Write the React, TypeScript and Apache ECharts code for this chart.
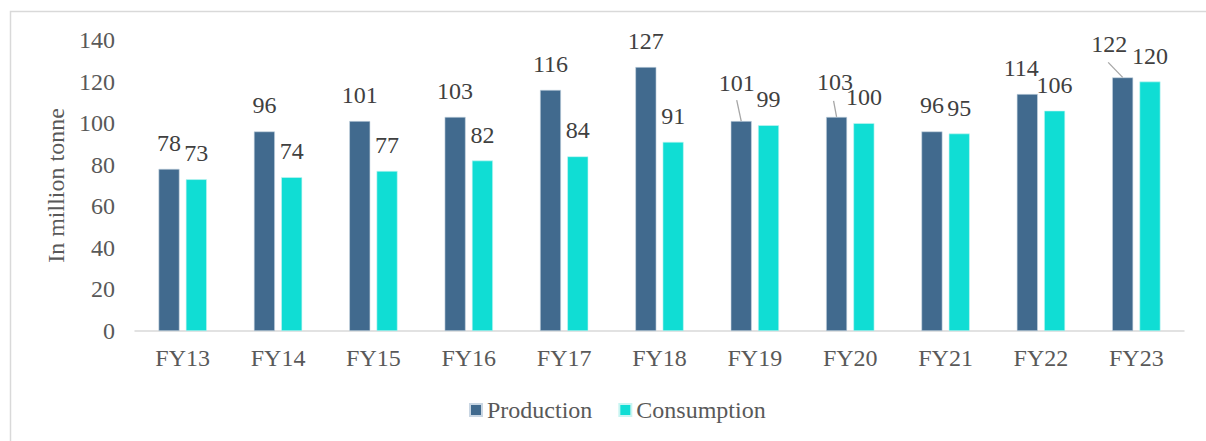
import React, { useEffect, useRef } from "react";
import * as echarts from "echarts";

const categories = ["FY13", "FY14", "FY15", "FY16", "FY17", "FY18", "FY19", "FY20", "FY21", "FY22", "FY23"];
const production = [78, 96, 101, 103, 116, 127, 101, 103, 96, 114, 122];
const consumption = [73, 74, 77, 82, 84, 91, 99, 100, 95, 106, 120];
const seriesNames = ["Production", "Consumption"];
const yAxisName = "In million tonne";

// label offsets (dx, dy) for production labels that were moved in the reference
const prodLabelMoves: Record<number, [number, number]> = {
  6: [-4.5, -12],
  7: [-1.5, -9],
  9: [-6, 0],
  10: [-13.5, -7],
};
// leader lines: category index -> pixel offset of the line's label end from the bar-top centre
const leaderLines: Record<number, [number, number]> = {
  6: [-4.5, -21],
  7: [-3, -16],
  10: [-14.5, -15],
};

const FONT = "'Liberation Serif', 'Times New Roman', serif";
const BAR_W = 21;
const BAR_GAP = 0.3;

export default function App() {
  const ref = useRef<HTMLDivElement>(null);
  useEffect(() => {
    if (!ref.current) return;
    const chart = echarts.init(ref.current, undefined, { renderer: "svg" });
    const labelBase = {
      show: true,
      position: "top" as const,
      distance: 14,
      fontFamily: FONT,
      fontSize: 24,
      color: "#404040",
    };
    const leaderIdx = Object.keys(leaderLines).map(Number);
    chart.setOption({
      animation: false,
      textStyle: { fontFamily: FONT },
      graphic: [
        {
          type: "rect",
          shape: { x: 10.5, y: 11.5, width: 1400, height: 600 },
          style: { fill: "none", stroke: "#d9d9d9", lineWidth: 1.5 },
          silent: true,
          z: -1,
        },
      ],
      grid: { left: 135, right: 22, top: 40, bottom: 110, containLabel: false },
      legend: {
        left: 464,
        top: 393,
        itemWidth: 12,
        itemHeight: 12,
        itemGap: 26,
        icon: "rect",
        textStyle: { fontFamily: FONT, fontSize: 24, color: "#595959" },
        data: seriesNames,
      },
      xAxis: {
        type: "category",
        data: categories,
        axisLine: { lineStyle: { color: "#d9d9d9", width: 1.5 } },
        axisTick: { show: false },
        axisLabel: { fontFamily: FONT, fontSize: 24, color: "#595959", margin: 15 },
      },
      yAxis: {
        type: "value",
        min: 0,
        max: 140,
        interval: 20,
        name: yAxisName,
        nameLocation: "middle",
        nameGap: 65,
        nameTextStyle: { fontFamily: FONT, fontSize: 24, color: "#595959" },
        splitLine: { show: false },
        axisLine: { show: false },
        axisTick: { show: false },
        axisLabel: { fontFamily: FONT, fontSize: 24, color: "#595959", margin: 20 },
      },
      series: [
        {
          name: seriesNames[0],
          type: "bar",
          barWidth: BAR_W,
          barGap: `${BAR_GAP * 100}%`,
          itemStyle: { color: "#416a8e", borderColor: "#c9d6e3", borderWidth: 0.6 },
          label: labelBase,
          labelLayout: (p: any) => {
            const m = prodLabelMoves[p.dataIndex];
            return m ? { dx: m[0], dy: m[1] } : {};
          },
          data: production,
        },
        {
          name: seriesNames[1],
          type: "bar",
          barWidth: BAR_W,
          barGap: `${BAR_GAP * 100}%`,
          itemStyle: { color: "#10ddd4", borderColor: "#c8f5f2", borderWidth: 0.6 },
          label: labelBase,
          data: consumption,
        },
        {
          type: "custom",
          name: "leader",
          silent: true,
          z: 5,
          data: leaderIdx.map((i) => [i, production[i]]),
          renderItem: (params: any, api: any) => {
            const i = api.value(0);
            const top = api.coord([i, api.value(1)]);
            const groupW = BAR_W * 2 + BAR_W * BAR_GAP;
            const cx = top[0] - groupW / 2 + BAR_W / 2;
            const off = leaderLines[i];
            return {
              type: "line",
              shape: { x1: cx, y1: top[1], x2: cx + off[0], y2: top[1] + off[1] },
              style: { stroke: "#a6a6a6", lineWidth: 1.3 },
            };
          },
        },
      ],
    });
    return () => chart.dispose();
  }, []);
  return (
    <div
      ref={ref}
      style={{ position: "fixed", left: 0, top: 0, width: 1206, height: 441, background: "#fff" }}
    />
  );
}
